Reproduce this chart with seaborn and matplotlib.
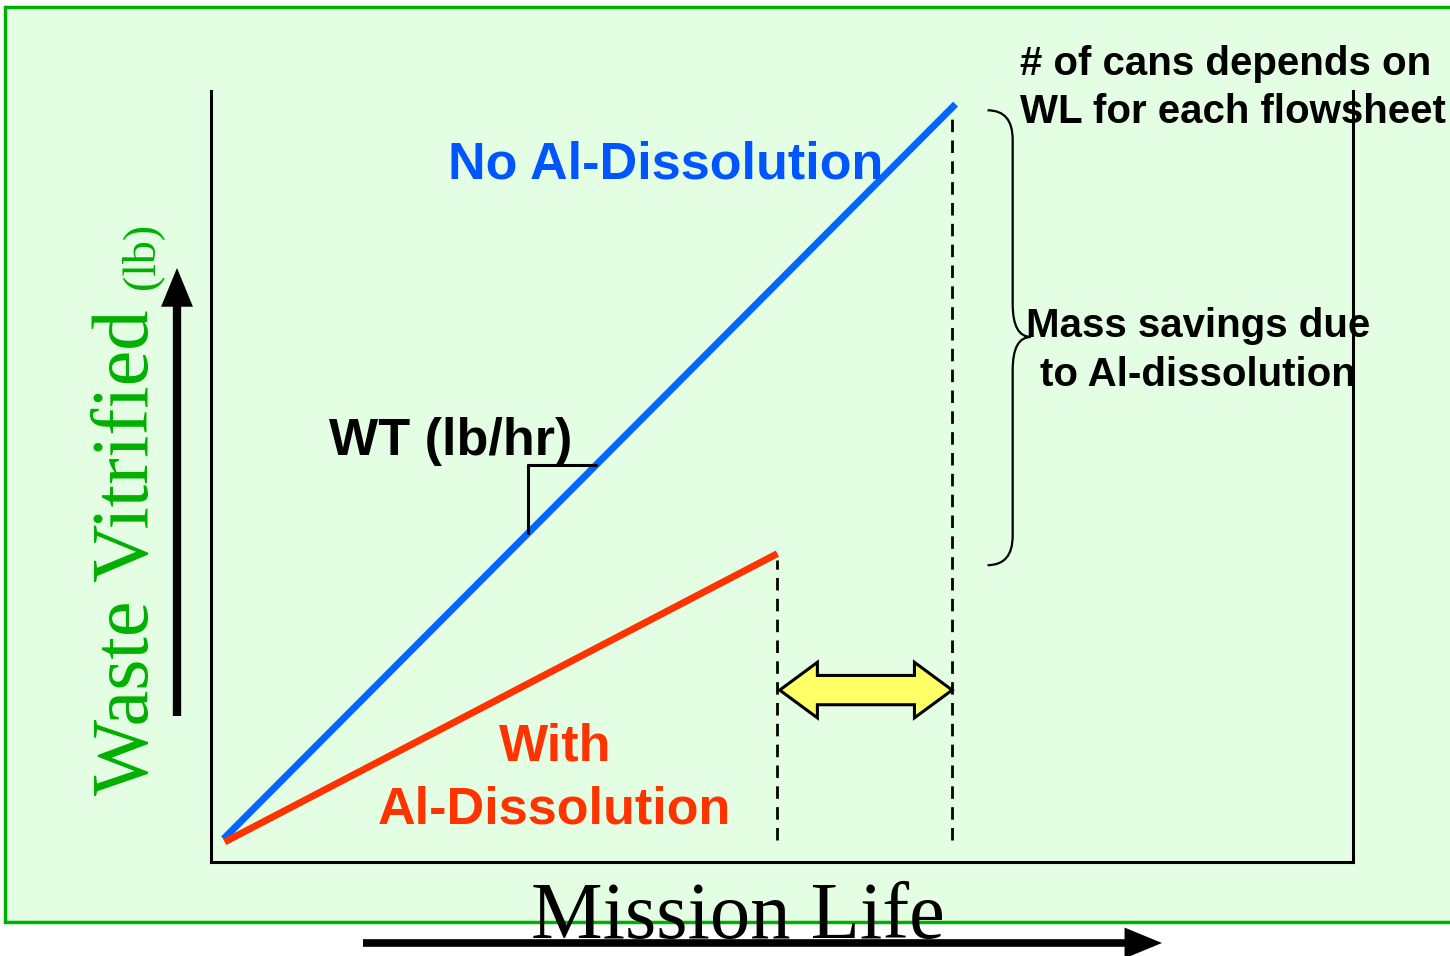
import numpy as np
import pandas as pd
import matplotlib.pyplot as plt
import seaborn as sns
from matplotlib.patches import Rectangle, Polygon, PathPatch
from matplotlib.path import Path

# schematic values (mission life and waste vitrified, in % of the axis)
scenarios = ["No Al-Dissolution", "With Al-Dissolution"]
mission_start = [1.1, 1.2]
mission_end = [65.2, 49.6]
waste_start = [3.0, 2.6]
waste_end = [98.3, 40.0]
palette = {"No Al-Dissolution": "#0066FF", "With Al-Dissolution": "#FF3300"}

rows = []
for name, x0, x1, y0, y1 in zip(scenarios, mission_start, mission_end, waste_start, waste_end):
    rows.append({"scenario": name, "mission": x0, "waste": y0})
    rows.append({"scenario": name, "mission": x1, "waste": y1})
df = pd.DataFrame(rows)

sns.set_style("white")
plt.rcParams['font.family'] = ['Liberation Sans', 'DejaVu Sans']

fig = plt.figure(figsize=(14.5, 9.56), dpi=100)
fig.patch.set_facecolor("white")

# green slide panel behind everything
fig.patches.append(Rectangle((0.0034, 0.0356), 1.0, 0.957, transform=fig.transFigure,
                             facecolor="#E3FEE3", edgecolor="#00B000", lw=2.5, zorder=-5))

ax = fig.add_axes([0.1455, 0.0983, 0.7876, 0.8065])
ax.set_facecolor("none")
sns.lineplot(data=df, x="mission", y="waste", hue="scenario", palette=palette,
             linewidth=5, legend=False, ax=ax, solid_capstyle="butt")
ax.set_xlim(0, 100)
ax.set_ylim(0, 100)
ax.set_xticks([])
ax.set_yticks([])
ax.set_xlabel("")
ax.set_ylabel("")
for side in ["left", "bottom", "right"]:
    ax.spines[side].set_color("black")
    ax.spines[side].set_linewidth(2.2)
ax.spines["top"].set_visible(False)

# dashed drop lines at the end of each campaign
ax.vlines([mission_end[1], mission_end[0] - 0.3], [waste_start[0] - 0.2, waste_start[0] - 0.2],
          [waste_end[1] - 0.8, waste_end[0] - 0.9],
          colors="black", linestyles=(0, (4.5, 3)), linewidth=2)

# slope triangle on the blue line
slope = (waste_end[0] - waste_start[0]) / (mission_end[0] - mission_start[0])
tx, ty = 27.8, 51.5
ax.plot([tx, tx], [ty, waste_start[0] + slope * (tx - mission_start[0])], color="black", lw=2.2)
ax.plot([tx, mission_start[0] + (ty - waste_start[0]) / slope], [ty, ty], color="black", lw=2.2)

# yellow double arrow between the two end points
xa, xb, yc = mission_end[1] + 0.2, mission_end[0] - 0.3, 22.3
hl, hw, sw = 3.3, 3.6, 1.9
arrow = Polygon([(xa, yc), (xa + hl, yc + hw), (xa + hl, yc + sw), (xb - hl, yc + sw),
                 (xb - hl, yc + hw), (xb, yc), (xb - hl, yc - hw), (xb - hl, yc - sw),
                 (xa + hl, yc - sw), (xa + hl, yc - hw)], closed=True,
                facecolor="#FFFF66", edgecolor="black", lw=2.2, zorder=3)
ax.add_patch(arrow)

# curly brace for the mass savings
bl, bs, bt = 68.0, 70.2, 71.8
ytop, ybot, ymid = 97.5, 38.5, 68.1
verts = [(bl, ytop), (bs, ytop), (bs, ytop - 3.8), (bs, ymid + 4.3),
         (bs, ymid), (bt, ymid), (bs, ymid), (bs, ymid - 4.3),
         (bs, ybot + 3.8), (bs, ybot), (bl, ybot)]
codes = [Path.MOVETO, Path.CURVE3, Path.CURVE3, Path.LINETO,
         Path.CURVE3, Path.CURVE3, Path.CURVE3, Path.CURVE3,
         Path.LINETO, Path.CURVE3, Path.CURVE3]
ax.add_patch(PathPatch(Path(verts, codes), facecolor="none", edgecolor="black", lw=1.6,
                       clip_on=False))

bold = dict(fontweight="bold", clip_on=False)
ax.text(39.8, 88.6, "No Al-Dissolution", color="#0055FF", fontsize=37.5, ha="center",
        va="baseline", **bold)
ax.text(30.1, 13.2, "With", color="#FF3300", fontsize=37.5, ha="center", va="baseline", **bold)
ax.text(30.1, 5.0, "Al-Dissolution", color="#FF3300", fontsize=37.5, ha="center",
        va="baseline", **bold)
ax.text(10.3, 52.8, "WT (lb/hr)", color="black", fontsize=37.5, ha="left", va="baseline", **bold)
ax.text(70.8, 102.1, "# of cans depends on", color="black", fontsize=29, ha="left",
        va="baseline", **bold)
ax.text(70.8, 95.85, "WL for each flowsheet", color="black", fontsize=29, ha="left",
        va="baseline", **bold)
ax.text(71.4, 68.1, "Mass savings due", color="black", fontsize=29, ha="left",
        va="baseline", **bold)
ax.text(72.6, 61.7, "to Al-dissolution", color="black", fontsize=29, ha="left",
        va="baseline", **bold)

serif = ['Liberation Serif', 'DejaVu Serif']
fig.text(738 / 1450, 1 - 938 / 956, "Mission Life", family=serif, fontsize=58,
         ha="center", va="baseline", color="black", zorder=5)
fig.text(165 / 1450, 1 - 552 / 956, "Waste Vitrified", family=serif, fontsize=58,
         rotation=90, ha="right", va="center", color="#00B000", zorder=5)
fig.text(163 / 1450, 1 - 256 / 956, "(lb)", family=serif, fontsize=33,
         rotation=90, ha="right", va="center", color="#00B000", zorder=5)

# direction arrows for the axes
head = "-|>,head_width=0.35,head_length=0.85"
ax.annotate("", xy=(177 / 1450, 1 - 268 / 956), xytext=(177 / 1450, 1 - 716 / 956),
            xycoords="figure fraction", textcoords="figure fraction",
            arrowprops=dict(arrowstyle=head, lw=6, color="black", mutation_scale=20,
                            shrinkA=0, shrinkB=0, capstyle="butt", joinstyle="miter"),
            annotation_clip=False)
ax.annotate("", xy=(1162 / 1450, 1 - 943 / 956), xytext=(363 / 1450, 1 - 943 / 956),
            xycoords="figure fraction", textcoords="figure fraction",
            arrowprops=dict(arrowstyle=head, lw=5.5, color="black", mutation_scale=20,
                            shrinkA=0, shrinkB=0, capstyle="butt", joinstyle="miter"),
            annotation_clip=False)

fig.savefig("out.png", dpi=100)
